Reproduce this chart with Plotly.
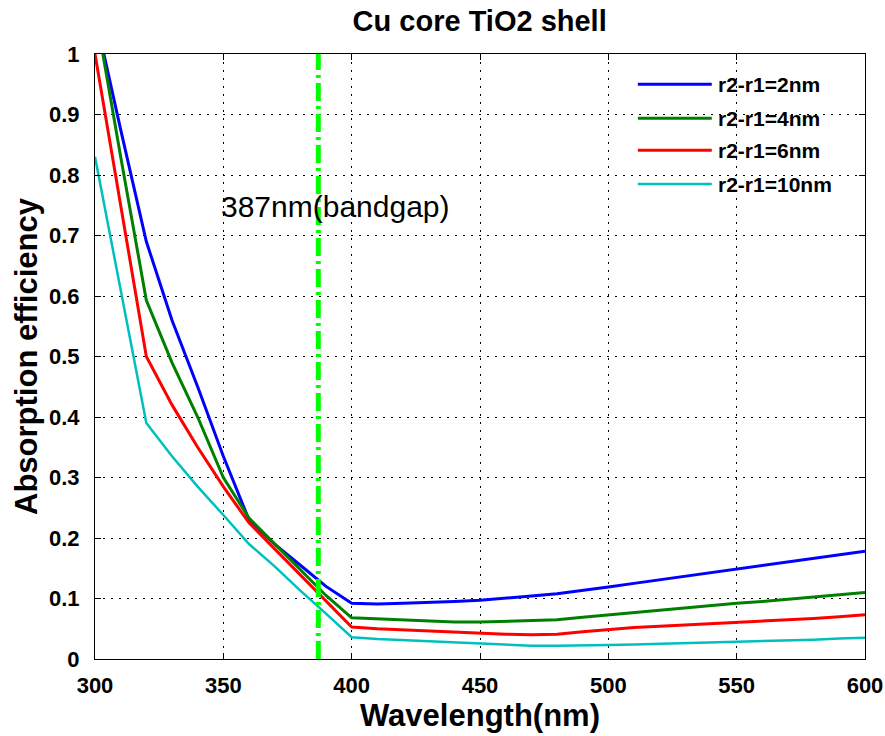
import plotly.graph_objects as go

# Wavelength grid (nm)
wavelength = list(range(300, 610, 10))

# Absorption efficiency for each shell thickness
eff_2nm = [1.066, 0.875, 0.69, 0.56, 0.45, 0.335, 0.23, 0.19, 0.155, 0.12, 0.092,
           0.091, 0.092, 0.093, 0.095, 0.097, 0.100, 0.104, 0.108, 0.113, 0.119,
           0.125, 0.131, 0.137, 0.143, 0.148, 0.154, 0.160, 0.166, 0.172, 0.178]
eff_4nm = [1.075, 0.83, 0.593, 0.49, 0.40, 0.30, 0.233, 0.19, 0.148, 0.105, 0.068,
           0.066, 0.064, 0.062, 0.061, 0.061, 0.062, 0.063, 0.065, 0.069, 0.073,
           0.077, 0.080, 0.084, 0.088, 0.092, 0.095, 0.099, 0.103, 0.106, 0.110]
eff_6nm = [1.0, 0.75, 0.50, 0.42, 0.35, 0.285, 0.225, 0.182, 0.139, 0.096, 0.053,
           0.050, 0.048, 0.046, 0.044, 0.043, 0.041, 0.040, 0.041, 0.045, 0.049,
           0.052, 0.054, 0.056, 0.058, 0.060, 0.062, 0.064, 0.067, 0.070, 0.073]
eff_10nm = [0.83, 0.61, 0.39, 0.335, 0.285, 0.238, 0.19, 0.153, 0.113, 0.075, 0.036,
            0.033, 0.031, 0.029, 0.027, 0.026, 0.024, 0.022, 0.022, 0.022, 0.023,
            0.024, 0.025, 0.026, 0.027, 0.028, 0.030, 0.031, 0.032, 0.034, 0.035]

series_names = ["r2-r1=2nm", "r2-r1=4nm", "r2-r1=6nm", "r2-r1=10nm"]
series_values = [eff_2nm, eff_4nm, eff_6nm, eff_10nm]
series_colors = ["#0000ff", "#008000", "#ff0000", "#00bfbf"]
series_widths = [3, 3, 3, 2.5]

bandgap_nm = 387
x_ticks = [300, 350, 400, 450, 500, 550, 600]
y_ticks = [0, 0.1, 0.2, 0.3, 0.4, 0.5, 0.6, 0.7, 0.8, 0.9, 1]
y_tick_text = ["0", "0.1", "0.2", "0.3", "0.4", "0.5", "0.6", "0.7", "0.8", "0.9", "1"]

FONT = "Liberation Sans, Arial, Helvetica, sans-serif"

fig = go.Figure()

for name, vals, col, w in zip(series_names, series_values, series_colors, series_widths):
    fig.add_trace(go.Scatter(x=wavelength, y=vals, mode="lines", name=name,
                             line=dict(color=col, width=w), showlegend=False))

# bandgap marker
fig.add_trace(go.Scatter(x=[bandgap_nm, bandgap_nm], y=[0, 1], mode="lines",
                         line=dict(color="#00ff00", width=5, dash="18px,5px,3px,5px"),
                         showlegend=False, hoverinfo="skip"))

fig.add_annotation(x=348.5, y=0.748, xref="x", yref="y", xanchor="left", yanchor="middle",
                   text=f"{bandgap_nm}nm(bandgap)", showarrow=False,
                   font=dict(family=FONT, size=30, color="black"))

# legend drawn as line samples with labels
legend_x0, legend_x1, legend_tx = 0.705, 0.801, 0.806
legend_rows = [0.950, 0.894, 0.841, 0.785]
for name, col, w, ry in zip(series_names, series_colors, series_widths, legend_rows):
    fig.add_shape(type="line", xref="paper", yref="paper",
                  x0=legend_x0, x1=legend_x1, y0=ry, y1=ry,
                  line=dict(color=col, width=w))
    fig.add_annotation(x=legend_tx, y=ry, xref="paper", yref="paper",
                       xanchor="left", yanchor="middle", text=name, showarrow=False,
                       font=dict(family=FONT, size=21, color="black", weight="bold"))

axis_common = dict(
    showline=True, linecolor="black", linewidth=1, mirror="ticks",
    ticks="inside", ticklen=6, tickcolor="black", tickwidth=1,
    showgrid=True, gridcolor="black", gridwidth=1, griddash="2px,6px",
    zeroline=False, automargin=False,
    tickfont=dict(family=FONT, size=22, color="black", weight="bold"),
)

fig.update_xaxes(range=[300, 600], tickvals=x_ticks, ticklabelstandoff=7,
                 title=dict(text="Wavelength(nm)", standoff=6,
                            font=dict(family=FONT, size=31, color="black", weight="bold")),
                 **axis_common)
fig.update_yaxes(range=[0, 1], tickvals=y_ticks, ticktext=y_tick_text, ticklabelstandoff=10,
                 title=dict(text="Absorption efficiency", standoff=2,
                            font=dict(family=FONT, size=31, color="black", weight="bold")),
                 **axis_common)

fig.update_layout(
    width=885, height=736,
    margin=dict(l=95, r=20, t=54, b=77),
    paper_bgcolor="white", plot_bgcolor="white",
    title=dict(text="Cu core TiO2 shell", x=0.542, xanchor="center", y=0.972, yanchor="middle",
               font=dict(family=FONT, size=29, color="black", weight="bold")),
)

fig.write_html("out.html")
